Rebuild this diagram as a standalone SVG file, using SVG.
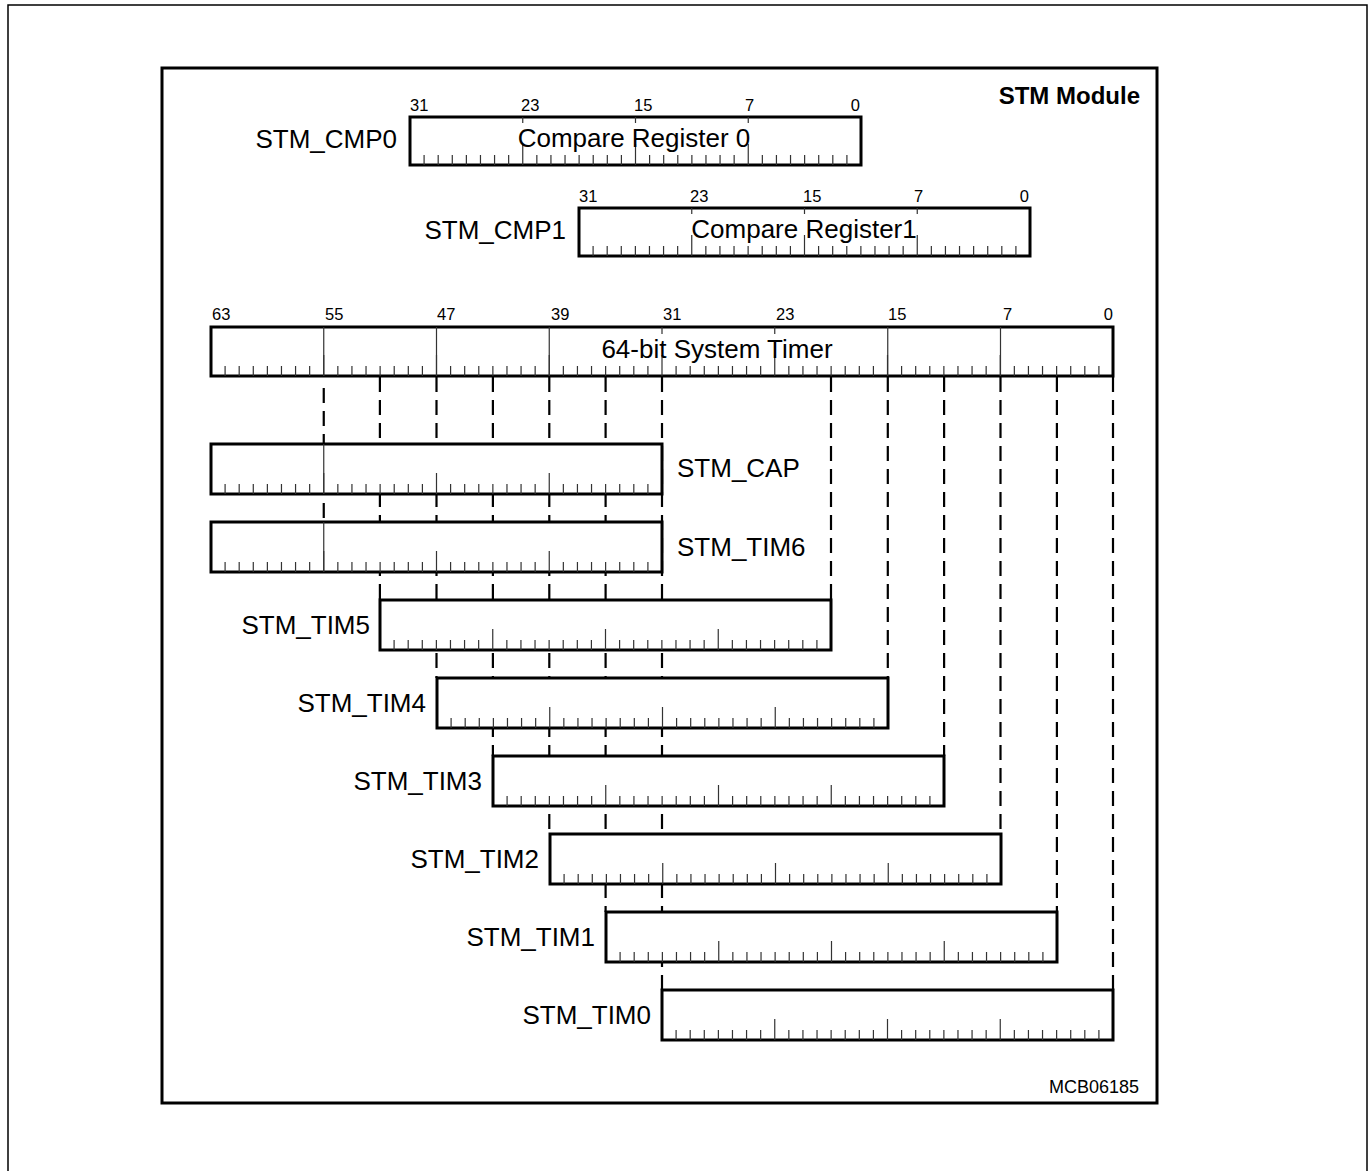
<svg xmlns="http://www.w3.org/2000/svg" xmlns:xlink="http://www.w3.org/1999/xlink" width="1372" height="1171" viewBox="0 0 1372 1171">
<style>
text{font-family:"Liberation Sans",Arial,sans-serif;fill:#000}
.lbl{font-size:26px}
.num{font-size:16.5px}
.box{fill:#fff;stroke:#000;stroke-width:3}
.tk{fill:none;stroke:#333;stroke-width:1.2}
.dash{fill:none;stroke:#000;stroke-width:2.2;stroke-dasharray:15 8}
</style>
<defs>
<path id="t32" class="tk" d="M14.09375,0v-10m14.09375,10v-10m14.09375,10v-10m14.09375,10v-10m14.09375,10v-10m14.09375,10v-10m14.09375,10v-10m14.09375,10v-10m14.09375,10v-10m14.09375,10v-10m14.09375,10v-10m14.09375,10v-10m14.09375,10v-10m14.09375,10v-10m14.09375,10v-10m14.09375,10v-10m14.09375,10v-10m14.09375,10v-10m14.09375,10v-10m14.09375,10v-10m14.09375,10v-10m14.09375,10v-10m14.09375,10v-10m14.09375,10v-10m14.09375,10v-10m14.09375,10v-10m14.09375,10v-10m14.09375,10v-10m14.09375,10v-10m14.09375,10v-10m14.09375,10v-10M112.75,0v-21M225.5,0v-21M338.25,0v-21"/>
</defs>
<rect x="8" y="5" width="1359" height="1180" fill="none" stroke="#000" stroke-width="1.5"/>
<rect x="162" y="68" width="995" height="1035" fill="#fff" stroke="#000" stroke-width="3"/>
<text x="1140" y="104" font-size="24" font-weight="bold" text-anchor="end">STM Module</text>
<text x="1139" y="1093" font-size="18" text-anchor="end">MCB06185</text>

<g id="connectors">
<path class="dash" d="M323.75,388V522"/>
<path class="dash" d="M379.9,377V600"/>
<path class="dash" d="M436.5,377V678"/>
<path class="dash" d="M492.9,377V756"/>
<path class="dash" d="M549.3,377V834"/>
<path class="dash" d="M605.6,377V912"/>
<path class="dash" d="M662,377V990"/>
<path class="dash" d="M831,377V600"/>
<path class="dash" d="M887.8,377V678"/>
<path class="dash" d="M944.1,377V756"/>
<path class="dash" d="M1000.5,377V834"/>
<path class="dash" d="M1056.9,377V912"/>
<path class="dash" d="M1113,377V990"/>
</g>

<g id="stm_cmp0">
<rect class="box" x="410" y="117" width="451" height="48"/>
<use href="#t32" x="410" y="165"/>
<path class="tk" d="M522.75,117v6M635.5,117v6M748.25,117v6"/>
<text class="lbl" x="397" y="148" text-anchor="end">STM_CMP0</text>
<text class="lbl" x="634" y="147" text-anchor="middle">Compare Register 0</text>
<text class="num" x="410" y="111">31</text>
<text class="num" x="521" y="111">23</text>
<text class="num" x="634" y="111">15</text>
<text class="num" x="745" y="111">7</text>
<text class="num" x="860" y="111" text-anchor="end">0</text>
</g>

<g id="stm_cmp1">
<rect class="box" x="579" y="208" width="451" height="48"/>
<use href="#t32" x="579" y="256"/>
<path class="tk" d="M691.75,208v6M804.5,208v6M917.25,208v6"/>
<text class="lbl" x="566" y="239" text-anchor="end">STM_CMP1</text>
<text class="lbl" x="804" y="238" text-anchor="middle">Compare Register1</text>
<text class="num" x="579" y="202">31</text>
<text class="num" x="690" y="202">23</text>
<text class="num" x="803" y="202">15</text>
<text class="num" x="914" y="202">7</text>
<text class="num" x="1029" y="202" text-anchor="end">0</text>
</g>

<g id="system_timer">
<rect class="box" x="211" y="327" width="902" height="49"/>
<use href="#t32" x="211" y="376"/>
<use href="#t32" x="662" y="376"/>
<path class="tk" d="M323.75,327V376M436.5,327V376M549.25,327V376M887.75,327V376M1000.5,327V376M662,327v7M662,376v-21M774.75,327v7"/>
<text class="lbl" x="717" y="358" text-anchor="middle">64-bit System Timer</text>
<text class="num" x="212" y="320">63</text>
<text class="num" x="325" y="320">55</text>
<text class="num" x="437" y="320">47</text>
<text class="num" x="551" y="320">39</text>
<text class="num" x="663" y="320">31</text>
<text class="num" x="776" y="320">23</text>
<text class="num" x="888" y="320">15</text>
<text class="num" x="1003" y="320">7</text>
<text class="num" x="1113" y="320" text-anchor="end">0</text>
</g>

<g id="stm_cap">
<rect class="box" x="211" y="444" width="451" height="50"/>
<use href="#t32" x="211" y="494"/>
<path class="tk" d="M323.75,444V494"/>
<text class="lbl" x="677" y="477">STM_CAP</text>
</g>

<g id="stm_tim6">
<rect class="box" x="211" y="522" width="451" height="50"/>
<use href="#t32" x="211" y="572"/>
<path class="tk" d="M323.75,522V572"/>
<text class="lbl" x="677" y="556">STM_TIM6</text>
</g>

<g id="stm_tim5">
<rect class="box" x="380" y="600" width="451" height="50"/>
<use href="#t32" x="380" y="650"/>
<text class="lbl" x="370" y="634" text-anchor="end">STM_TIM5</text>
</g>

<g id="stm_tim4">
<rect class="box" x="437" y="678" width="451" height="50"/>
<use href="#t32" x="437" y="728"/>
<text class="lbl" x="426" y="712" text-anchor="end">STM_TIM4</text>
</g>

<g id="stm_tim3">
<rect class="box" x="493" y="756" width="451" height="50"/>
<use href="#t32" x="493" y="806"/>
<text class="lbl" x="482" y="790" text-anchor="end">STM_TIM3</text>
</g>

<g id="stm_tim2">
<rect class="box" x="550" y="834" width="451" height="50"/>
<use href="#t32" x="550" y="884"/>
<text class="lbl" x="539" y="868" text-anchor="end">STM_TIM2</text>
</g>

<g id="stm_tim1">
<rect class="box" x="606" y="912" width="451" height="50"/>
<use href="#t32" x="606" y="962"/>
<text class="lbl" x="595" y="946" text-anchor="end">STM_TIM1</text>
</g>

<g id="stm_tim0">
<rect class="box" x="662" y="990" width="451" height="50"/>
<use href="#t32" x="662" y="1040"/>
<text class="lbl" x="651" y="1024" text-anchor="end">STM_TIM0</text>
</g>
</svg>
